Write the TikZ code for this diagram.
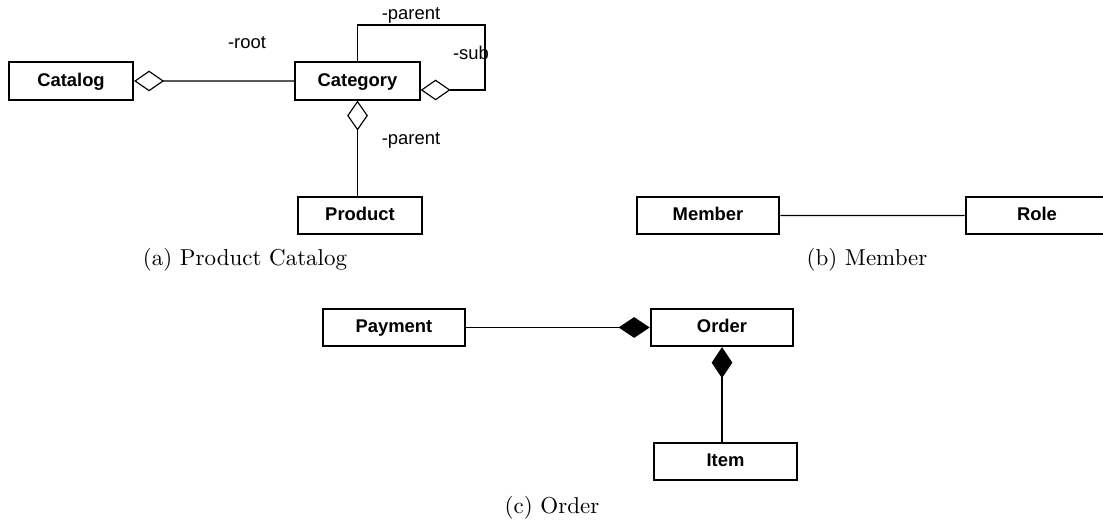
\documentclass[tikz,border=0pt]{standalone}
\usepackage{fontspec}
\newfontfamily\umlfont{Liberation Sans}
\usetikzlibrary{arrows.meta}

\begin{document}
\begin{tikzpicture}[scale=0.1528,
    class node/.style={rectangle,draw,line width=0.9pt,minimum width=#1,minimum height=16.2pt,inner sep=0pt,text height=6pt,text depth=1.6pt,font=\umlfont\fontsize{8}{9.6}\selectfont\bfseries},
    class node/.default=54pt,
    role label/.style={font=\umlfont\fontsize{8}{9.6}\selectfont,inner sep=1pt},
    aggr/.style={{Diamond[open,length=13pt,width=9pt]}-,line width=0.5pt},
    comp/.style={{Diamond[length=13.5pt,width=9pt]}-,line width=0.5pt},
    assoc/.style={-,line width=0.5pt}]
  \useasboundingbox (0,0) rectangle (110.3,52.4);
  % (a) product catalog
  \begin{scope}
    \node[class node] (catalog) at (7.1,44.3) {Catalog};
    \node[class node] (cat) at (35.75,44.3) {Category};
    \node[class node] (prod) at (36.0,30.85) {Product};
    \coordinate (subA) at (48.5,43.4);
    \coordinate (subB) at (48.5,49.9);
    \path[aggr] (catalog) edge (cat);
    \draw[aggr] (cat.east |- subA) -- (subA) -- (subB) -- (cat.north |- subB) -- (cat.north);
    \draw[aggr] (cat.south) -- (cat.south |- prod.north);
    \node[role label] (rootlbl) at (24.7,48.1) {-root};
    \node[role label] (parlbl) at (41.1,50.9) {-parent};
    \node[role label] (sublbl) at (47.1,47.1) {-sub};
    \node[role label] (prodlbl) at (41.1,38.4) {-parent};
    \node (capa) at (24.5,26.4) {(a) Product Catalog};
  \end{scope}
  % (b) member
  \begin{scope}
    \node[class node=62pt] (member) at (70.8,30.85) {Member};
    \node[class node=62pt] (role) at (103.7,30.85) {Role};
    \path[assoc] (member) edge (role);
    \node (capb) at (86.7,26.4) {(b) Member};
  \end{scope}
  % (c) order
  \begin{scope}
    \node[class node=62pt] (payment) at (39.4,19.65) {Payment};
    \node[class node=62pt] (order) at (72.2,19.65) {Order};
    \node[class node=62pt] (item) at (72.55,6.25) {Item};
    \path[comp] (order) edge (payment);
    \draw[comp] (order.south) -- (order.south |- item.north);
    \node (capc) at (55.2,1.6) {(c) Order};
  \end{scope}
\end{tikzpicture}
\end{document}
